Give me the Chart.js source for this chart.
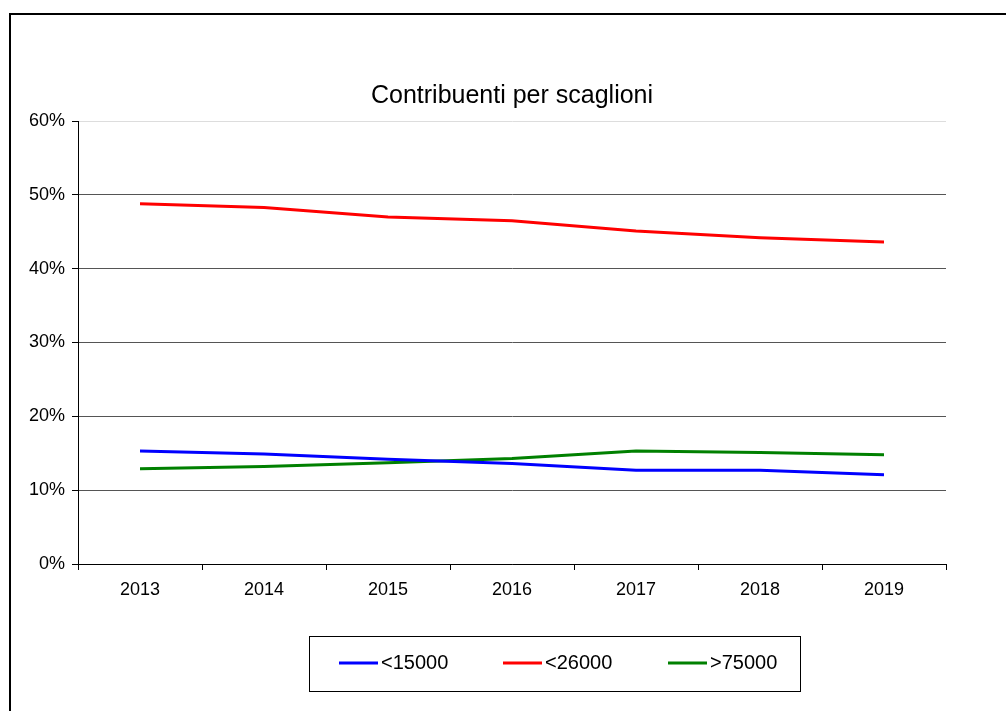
<!DOCTYPE html>
<html>
<head>
<meta charset="utf-8">
<script src="https://cdn.jsdelivr.net/npm/chart.js@4/dist/chart.umd.min.js"></script>
<style>
  body { margin: 0; background: #fff; }
  canvas { display: block; }
</style>
</head>
<body>
<canvas id="chart" width="1006" height="711"></canvas>
<script>
// anni e quote per scaglione (%)
const years = ['2013', '2014', '2015', '2016', '2017', '2018', '2019'];
const under15000 = [15.3, 14.9, 14.2, 13.6, 12.7, 12.7, 12.1];
const under26000 = [48.8, 48.3, 47.0, 46.5, 45.1, 44.2, 43.6];
const over75000 = [12.9, 13.2, 13.7, 14.3, 15.3, 15.1, 14.8];
const yTicks = [0, 10, 20, 30, 40, 50, 60];

const FONT = "'Liberation Sans', Arial, sans-serif";

// cornice, titolo e legenda disegnati a mano
const decorPlugin = {
    id: 'decor',
    afterDraw(chart) {
        const ctx = chart.ctx;
        ctx.save();
        //frame
        ctx.fillStyle = '#000';
        ctx.fillRect(9, 13, 1000, 2);
        ctx.fillRect(9, 13, 2, 700);

        //title
        ctx.font = '25px ' + FONT;
        ctx.textAlign = 'center';
        ctx.textBaseline = 'middle';
        ctx.fillText('Contribuenti per scaglioni', 512, 96);

        //legend box
        ctx.strokeStyle = '#000';
        ctx.lineWidth = 1;
        ctx.strokeRect(309.5, 636.5, 491, 55);
        const starts = [339, 503, 668];
        ctx.font = '20px ' + FONT;
        ctx.textAlign = 'left';
        chart.data.datasets.forEach((ds, i) => {
            const x = starts[i];
            ctx.strokeStyle = ds.borderColor;
            ctx.lineWidth = 3;
            ctx.beginPath();
            ctx.moveTo(x, 663);
            ctx.lineTo(x + 39, 663);
            ctx.stroke();
            ctx.fillStyle = '#000';
            ctx.fillText(ds.label, x + 42, 663);
        });
        ctx.restore();
    }
};

new Chart(document.getElementById('chart'), {
    type: 'line',
    data: {
        labels: years,
        datasets: [{
            label: '<15000',
            data: under15000,
            borderColor: '#0000ff',
            borderWidth: 3,
            pointRadius: 0,
            tension: 0,
        }, {
            label: '<26000',
            data: under26000,
            borderColor: '#ff0000',
            borderWidth: 3,
            pointRadius: 0,
            tension: 0,
        }, {
            label: '>75000',
            data: over75000,
            borderColor: '#008000',
            borderWidth: 3,
            pointRadius: 0,
            tension: 0,
        }]
    },
    options: {
        responsive: false,
        animation: false,
        layout: {
            padding: { left: 0, top: 121, right: 60, bottom: 107 }
        },
        plugins: {
            legend: { display: false },
            title: { display: false },
            tooltip: { enabled: false }
        },
        scales: {
            x: {
                offset: true,
                afterFit(scale) { scale.height = 40; },
                border: { color: '#000', width: 1 },
                grid: {
                    offset: true,
                    drawOnChartArea: false,
                    tickLength: 6,
                    tickColor: '#000'
                },
                ticks: {
                    color: '#000',
                    padding: 9,
                    font: { family: FONT, size: 18 }
                }
            },
            y: {
                min: 0,
                max: 60,
                afterFit(scale) { scale.width = 78; },
                afterBuildTicks(scale) {
                    scale.ticks = yTicks.map(v => ({ value: v }));
                },
                border: { color: '#000', width: 1 },
                grid: {
                    tickLength: 6,
                    tickColor: '#000',
                    color: ctx => ctx.tick && ctx.tick.value === 60 ? '#dddddd' : '#555555'
                },
                ticks: {
                    color: '#000',
                    padding: 7,
                    font: { family: FONT, size: 18 },
                    callback: v => v + '%'
                }
            }
        }
    },
    plugins: [decorPlugin]
});
</script>
</body>
</html>
